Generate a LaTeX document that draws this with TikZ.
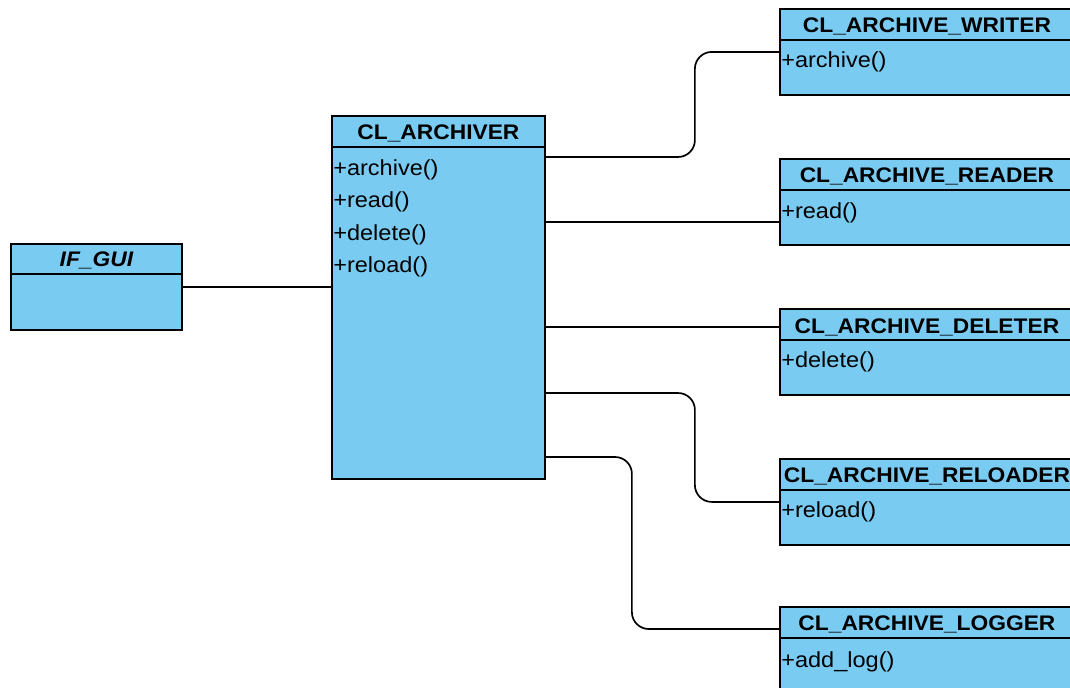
\documentclass[tikz,border=0pt]{standalone}
\usepackage{fontspec}
\setmainfont[FakeStretch=1.08]{Liberation Sans}
\usetikzlibrary{calc}

\definecolor{umlblue}{RGB}{122,203,242}

\tikzset{
  classbox/.style={draw=black, fill=umlblue, line width=1.3pt, anchor=north west, inner sep=0pt},
  classname/.style={font=\fontsize{15}{17}\selectfont\bfseries, inner sep=0pt},
  method/.style={font=\fontsize{15.5}{17}\selectfont, anchor=west, inner sep=0pt},
  link/.style={draw=black, line width=1.2pt, rounded corners=12pt}
}

\begin{document}
\begin{tikzpicture}[x=0.025cm, y=-0.025cm]
  \clip (0,0) rectangle (1070,688);

  % the interface
  \node[classbox, minimum width=4.275cm, minimum height=2.15cm] (gui) at (10,243) {};
  \node[classname, font=\fontsize{15}{17}\selectfont\bfseries\itshape] (gui-title) at ($(gui.north)+(0,17)$) {IF\_GUI};
  \draw[line width=1.3pt] ($(gui.north west)+(0,31)$) -- ($(gui.north east)+(0,31)$);

  % the archiver
  \node[classbox, minimum width=5.325cm, minimum height=9.075cm] (archiver) at (331,115) {};
  \node[classname] (archiver-title) at ($(archiver.north)+(0,18)$) {CL\_ARCHIVER};
  \draw[line width=1.3pt] ($(archiver.north west)+(0,32)$) -- ($(archiver.north east)+(0,32)$);
  \node[method] (archiver-m1) at ($(archiver.north west)+(2,55)$) {+archive()};
  \node[method] (archiver-m2) at ($(archiver.north west)+(2,87)$) {+read()};
  \node[method] (archiver-m3) at ($(archiver.north west)+(2,120)$) {+delete()};
  \node[method] (archiver-m4) at ($(archiver.north west)+(2,152)$) {+reload()};

  % the workers
  \node[classbox, minimum width=7.35cm, minimum height=2.15cm] (writer) at (779,8) {};
  \node[classname] (writer-title) at ($(writer.north)+(0,18)$) {CL\_ARCHIVE\_WRITER};
  \draw[line width=1.3pt] ($(writer.north west)+(0,32)$) -- ($(writer.north east)+(0,32)$);
  \node[method] (writer-m1) at ($(writer.north west)+(2,54)$) {+archive()};

  \node[classbox, minimum width=7.35cm, minimum height=2.15cm] (reader) at (779,158) {};
  \node[classname] (reader-title) at ($(reader.north)+(0,18)$) {CL\_ARCHIVE\_READER};
  \draw[line width=1.3pt] ($(reader.north west)+(0,32)$) -- ($(reader.north east)+(0,32)$);
  \node[method] (reader-m1) at ($(reader.north west)+(2,55)$) {+read()};

  \node[classbox, minimum width=7.35cm, minimum height=2.15cm] (deleter) at (779,308) {};
  \node[classname] (deleter-title) at ($(deleter.north)+(0,19)$) {CL\_ARCHIVE\_DELETER};
  \draw[line width=1.3pt] ($(deleter.north west)+(0,32)$) -- ($(deleter.north east)+(0,32)$);
  \node[method] (deleter-m1) at ($(deleter.north west)+(2,54)$) {+delete()};

  \node[classbox, minimum width=7.35cm, minimum height=2.15cm] (reloader) at (779,458) {};
  \node[classname] (reloader-title) at ($(reloader.north)+(0,18)$) {CL\_ARCHIVE\_RELOADER};
  \draw[line width=1.3pt] ($(reloader.north west)+(0,32)$) -- ($(reloader.north east)+(0,32)$);
  \node[method] (reloader-m1) at ($(reloader.north west)+(2,54)$) {+reload()};

  \node[classbox, minimum width=7.35cm, minimum height=2.15cm] (logger) at (779,606) {};
  \node[classname] (logger-title) at ($(logger.north)+(0,18)$) {CL\_ARCHIVE\_LOGGER};
  \draw[line width=1.3pt] ($(logger.north west)+(0,32)$) -- ($(logger.north east)+(0,32)$);
  \node[method] (logger-m1) at ($(logger.north west)+(2,56)$) {+add\_log()};

  % links
  \coordinate (p1) at ($(archiver.north east)+(0,42)$);
  \coordinate (p2) at ($(archiver.north east)+(0,107)$);
  \coordinate (p3) at ($(archiver.north east)+(0,212)$);
  \coordinate (p4) at ($(archiver.north east)+(0,278)$);
  \coordinate (p5) at ($(archiver.north east)+(0,342)$);
  \coordinate (q5) at ($(logger.north west)+(0,23)$);

  \draw[link] (gui.east) -- (gui.east -| archiver.west);
  \draw[link] (p1) -- ++(149,0) |- (writer.west);
  \draw[link] (p2) -- (p2 -| reader.west);
  \draw[link] (p3) -- (p3 -| deleter.west);
  \draw[link] (p4) -- ++(149,0) |- (reloader.west);
  \draw[link] (p5) -- ++(86,0) |- (q5);
\end{tikzpicture}
\end{document}
